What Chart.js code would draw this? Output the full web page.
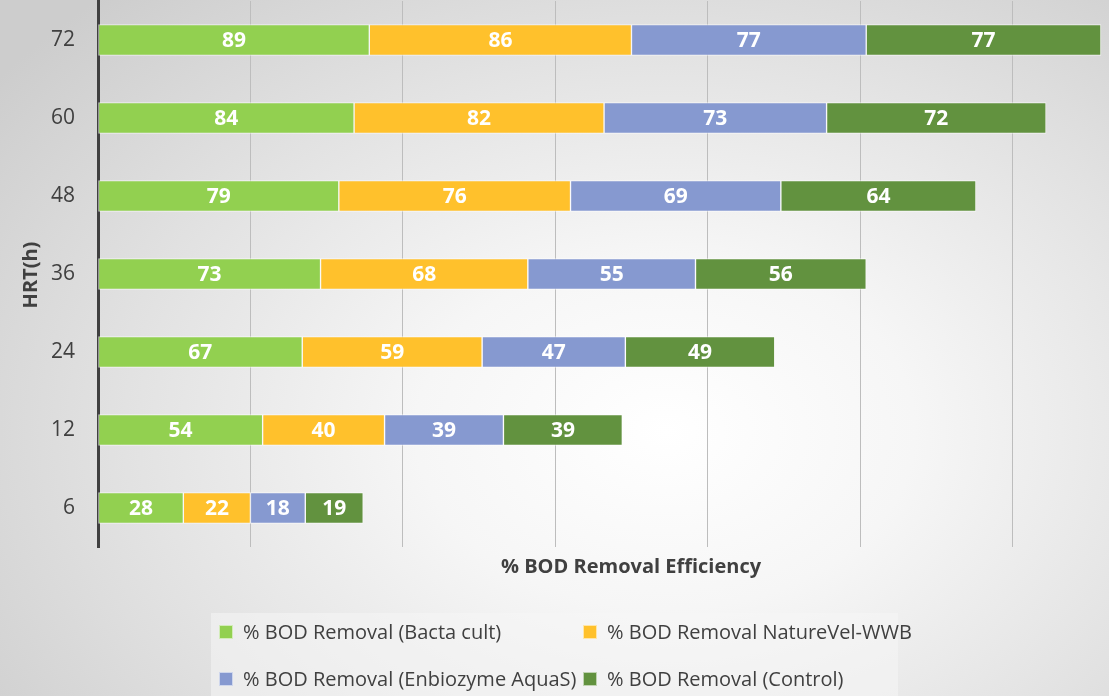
<!DOCTYPE html>
<html>
<head>
<meta charset="utf-8">
<script src="https://cdn.jsdelivr.net/npm/chart.js@4.4.1/dist/chart.umd.min.js"></script>
<style>
  html, body { margin:0; padding:0; }
  body {
    width:1109px; height:696px; overflow:hidden; position:relative;
    background: radial-gradient(ellipse 75% 85% at 60% 62%, #ffffff 0%, #f6f6f6 30%, #e2e2e2 65%, #cdcdcd 100%);
    font-family: "Open Sans", sans-serif;
  }
  #wrap { position:absolute; left:0; top:0; width:1109px; height:696px; }
  #legend {
    position:absolute; left:211px; top:613px; width:687px; height:83px;
    background: rgba(246,246,246,0.55);
  }
  .item { position:absolute; display:flex; align-items:center; font-size:20px; color:#404040; white-space:nowrap; }
  .sw { width:14px; height:14px; margin-right:10px; box-sizing:border-box; border:1px solid rgba(255,255,255,0.6); }
</style>
</head>
<body>
<div id="wrap"><canvas id="c" width="1109" height="696"></canvas></div>
<div id="legend"></div>
<script>
const categories = ["72", "60", "48", "36", "24", "12", "6"];
const seriesNames = [
  "% BOD Removal (Bacta cult)",
  "% BOD Removal NatureVel-WWB",
  "% BOD Removal (Enbiozyme AquaS)",
  "% BOD Removal (Control)"
];
const bactaCult   = [89, 84, 79, 73, 67, 54, 28];
const natureVel   = [86, 82, 76, 68, 59, 40, 22];
const enbiozyme   = [77, 73, 69, 55, 47, 39, 18];
const control     = [77, 72, 64, 56, 49, 39, 19];
const colors = ["#92D050", "#FFC12C", "#8699D0", "#62923F"];
const xTitle = "% BOD Removal Efficiency";
const yTitle = "HRT(h)";

const seriesValues = [bactaCult, natureVel, enbiozyme, control];

const labelPlugin = {
  id: 'barLabels',
  afterDatasetsDraw(chart) {
    const ctx = chart.ctx;
    ctx.save();
    ctx.fillStyle = '#ffffff';
    ctx.font = 'bold 21px "Open Sans", sans-serif';
    ctx.textAlign = 'center';
    ctx.textBaseline = 'middle';
    chart.data.datasets.forEach((ds, i) => {
      const meta = chart.getDatasetMeta(i);
      meta.data.forEach((el, j) => {
        const cx = (el.x + el.base) / 2;
        ctx.fillText(String(ds.data[j]), cx, el.y + 1);
      });
    });
    ctx.restore();
  }
};

const titlePlugin = {
  id: 'axisTitles',
  afterDraw(chart) {
    const ctx = chart.ctx;
    ctx.save();
    ctx.fillStyle = '#404040';
    ctx.font = 'bold 20px "Open Sans", sans-serif';
    ctx.textAlign = 'center';
    ctx.textBaseline = 'middle';
    ctx.fillText(xTitle, 631, 567);
    ctx.translate(31, 275);
    ctx.rotate(-Math.PI / 2);
    ctx.fillText(yTitle, 0, 0);
    ctx.restore();
  }
};

const chart = new Chart(document.getElementById('c'), {
  type: 'bar',
  data: {
    labels: categories,
    datasets: seriesValues.map((vals, i) => ({
      label: seriesNames[i],
      data: vals,
      backgroundColor: colors[i],
      borderColor: 'rgba(255,255,255,0.65)',
      borderWidth: 1,
      borderSkipped: false,
      barThickness: 31
    }))
  },
  options: {
    indexAxis: 'y',
    responsive: false,
    animation: false,
    layout: { padding: { left: 0, right: 5, top: 1, bottom: 149 } },
    plugins: { legend: { display: false }, tooltip: { enabled: false } },
    scales: {
      x: {
        stacked: true,
        min: 0, max: 330,
        ticks: { display: false, stepSize: 50, includeBounds: false },
        grid: { color: '#bdbdbd', lineWidth: 1, drawTicks: false },
        border: { display: false },
        afterFit(s) { s.height = 0; s.paddingLeft = 0; s.paddingRight = 0; }
      },
      y: {
        stacked: true,
        ticks: { color: '#404040', font: { family: '"Open Sans", sans-serif', size: 21 }, padding: 23 },
        grid: { display: false, drawTicks: false },
        border: { display: true, color: '#404040', width: 3 },
        afterFit(s) { s.width = 98; s.paddingTop = 0; s.paddingBottom = 0; }
      }
    }
  },
  plugins: [labelPlugin, titlePlugin]
});

// HTML legend built from the datasets
const legend = document.getElementById('legend');
const positions = [[8, 20], [372, 20], [8, 67], [372, 67]];
chart.data.datasets.forEach((ds, i) => {
  const it = document.createElement('div');
  it.className = 'item';
  it.style.left = positions[i][0] + 'px';
  it.style.top = (positions[i][1] - 15) + 'px';
  const sw = document.createElement('span');
  sw.className = 'sw';
  sw.style.background = ds.backgroundColor;
  const tx = document.createElement('span');
  tx.textContent = ds.label;
  it.appendChild(sw); it.appendChild(tx);
  legend.appendChild(it);
});
</script>
</body>
</html>
